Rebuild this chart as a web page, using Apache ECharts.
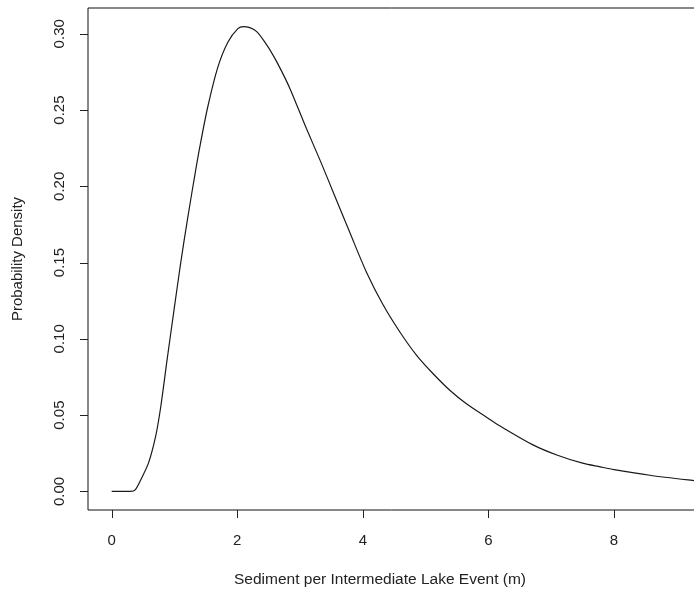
<!DOCTYPE html>
<html>
<head>
<meta charset="utf-8">
<script src="https://cdn.jsdelivr.net/npm/echarts@6/dist/echarts.min.js"></script>
<style>
html,body{margin:0;padding:0;background:#fff;}
#chart{width:694px;height:591px;}
</style>
</head>
<body>
<div id="chart"></div>
<script>
// Sediment per intermediate lake event (m)
var xValues = [0, 0.1, 0.2, 0.3, 0.375, 0.48, 0.59, 0.70, 0.78, 0.885, 0.99, 1.10, 1.21, 1.315, 1.40, 1.53, 1.69, 1.85, 2.01, 2.10, 2.20, 2.31, 2.44, 2.57, 2.70, 2.84, 3.10, 3.32, 3.53, 3.79, 4.06, 4.32, 4.59, 4.86, 5.12, 5.39, 5.65, 5.97, 6.18, 6.71, 7.1, 7.5, 7.78, 8.0, 8.57, 9.25, 9.43];
// Probability density
var densityValues = [0, 0, 0, 0, 0.001, 0.009, 0.019, 0.036, 0.055, 0.087, 0.118, 0.150, 0.179, 0.205, 0.225, 0.252, 0.278, 0.2945, 0.3034, 0.3047, 0.3040, 0.3014, 0.2945, 0.2860, 0.2760, 0.2640, 0.238, 0.217, 0.196, 0.170, 0.1435, 0.1225, 0.1045, 0.0890, 0.0771, 0.0661, 0.0574, 0.0486, 0.0430, 0.0305, 0.0237, 0.0185, 0.0161, 0.0143, 0.0106, 0.0072, 0.0065];
var xTicks = [0, 2, 4, 6, 8];
var yTicks = [0, 0.05, 0.10, 0.15, 0.20, 0.25, 0.30];
var xTitle = 'Sediment per Intermediate Lake Event (m)';
var yTitle = 'Probability Density';

var X_MIN = -0.377, X_MAX = 9.80, Y_MIN = -0.0122, Y_MAX = 0.3169;
var pts = xValues.map(function (x, i) { return [x, densityValues[i]]; });
var FONT = '"Liberation Sans", Arial, sans-serif';
var TICK_LEN = 8;
var chart = echarts.init(document.getElementById('chart'), null, {renderer: 'canvas'});
var titles = [
  {type: 'text', id: 'xt', x: 380, y: 580, style: {text: xTitle, fill: '#222', font: '15.5px ' + FONT, textAlign: 'center', textVerticalAlign: 'middle'}},
  {type: 'text', id: 'yt', x: 18, y: 259, rotation: Math.PI / 2, style: {text: yTitle, fill: '#222', font: '15px ' + FONT, textAlign: 'center', textVerticalAlign: 'middle'}}
];
chart.setOption({
  animation: false,
  backgroundColor: '#fff',
  grid: {left: 88, top: 8, width: 639, height: 502, show: true, borderColor: '#111', borderWidth: 1,
    backgroundColor: 'transparent', containLabel: false, outerBoundsMode: 'none'},
  xAxis: {
    type: 'value', min: X_MIN, max: X_MAX,
    axisLine: {show: false, onZero: false},
    splitLine: {show: false},
    axisTick: {show: false},
    axisLabel: {customValues: xTicks, margin: 23, color: '#222', fontSize: 15, fontFamily: FONT,
      formatter: function (v) { return String(v); }}
  },
  yAxis: {
    type: 'value', min: Y_MIN, max: Y_MAX,
    axisLine: {show: false, onZero: false},
    splitLine: {show: false},
    axisTick: {show: false},
    axisLabel: {customValues: yTicks, rotate: 90, margin: 21, color: '#222', fontSize: 15, fontFamily: FONT,
      formatter: function (v) { return v.toFixed(2); }}
  },
  graphic: titles,
  series: [{
    type: 'line', data: pts, showSymbol: false, smooth: 0.3,
    lineStyle: {color: '#1a1a1a', width: 1.2},
    clip: true, silent: true
  }]
});

// Tick marks placed through the chart's own axis scales
var tickEls = [];
xTicks.forEach(function (v, i) {
  var p = chart.convertToPixel({gridIndex: 0}, [v, Y_MIN]);
  var x = Math.round(p[0]) + 0.5;
  tickEls.push({type: 'line', id: 'xtick' + i, shape: {x1: x, y1: p[1], x2: x, y2: p[1] + TICK_LEN},
    style: {stroke: '#222', lineWidth: 1}, z: 100, silent: true});
});
yTicks.forEach(function (v, i) {
  var p = chart.convertToPixel({gridIndex: 0}, [X_MIN, v]);
  var y = Math.round(p[1]) + 0.5;
  tickEls.push({type: 'line', id: 'ytick' + i, shape: {x1: p[0] - TICK_LEN, y1: y, x2: p[0], y2: y},
    style: {stroke: '#222', lineWidth: 1}, z: 100, silent: true});
});
chart.setOption({graphic: titles.concat(tickEls)});
</script>
</body>
</html>
